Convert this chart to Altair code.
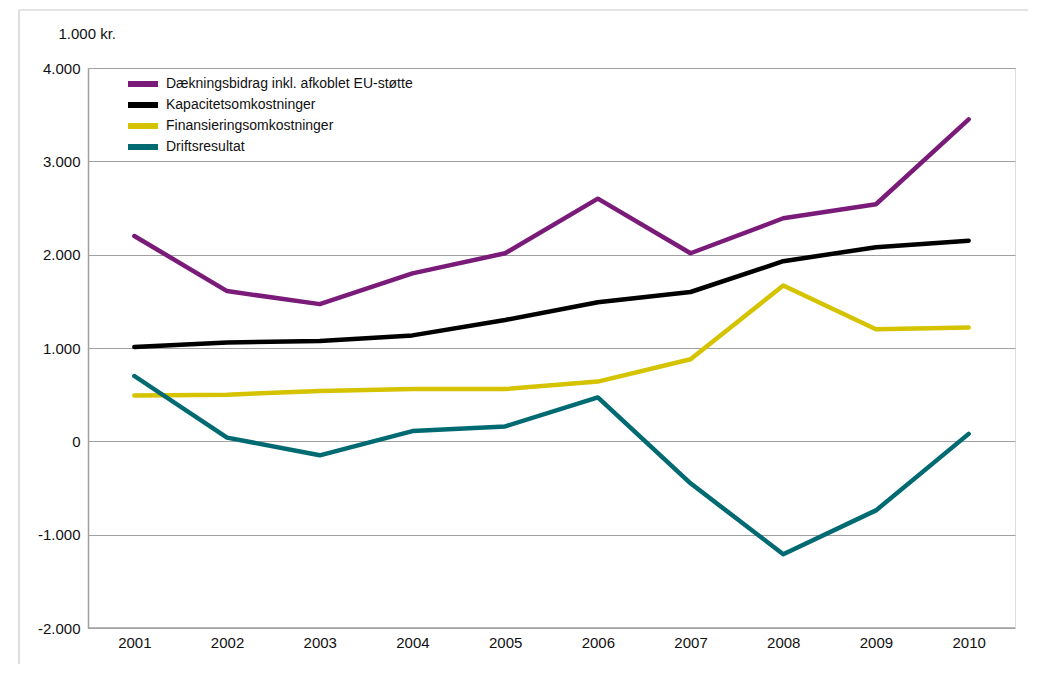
import altair as alt
import pandas as pd

years = ["2001", "2002", "2003", "2004", "2005", "2006", "2007", "2008", "2009", "2010"]
series_names = [
    "Dækningsbidrag inkl. afkoblet EU-støtte",
    "Kapacitetsomkostninger",
    "Finansieringsomkostninger",
    "Driftsresultat",
]
daekningsbidrag = [2200, 1610, 1470, 1800, 2015, 2600, 2015, 2390, 2540, 3450]
kapacitet = [1010, 1060, 1075, 1135, 1300, 1490, 1600, 1930, 2080, 2150]
finansiering = [490, 500, 540, 560, 560, 640, 880, 1670, 1200, 1220]
drift = [700, 40, -150, 110, 160, 470, -450, -1210, -740, 80]
colors = ["#7a1b7a", "#000000", "#d5c300", "#006a72"]

rows = []
for name, vals in zip(series_names, [daekningsbidrag, kapacitet, finansiering, drift]):
    for y, v in zip(years, vals):
        rows.append({"year": y, "value": v, "series": name})
df = pd.DataFrame(rows)

W, H = 927, 560
FONT = "Liberation Sans"

lines = alt.Chart(df).mark_line(strokeWidth=4.5, strokeCap="round", strokeJoin="round").encode(
    x=alt.X("year:O", scale=alt.Scale(type="point", padding=0.5),
            axis=alt.Axis(title=None, domain=False, ticks=False, labelAngle=0,
                          labelPadding=7, labelFontSize=15, labelColor="#111111",
                          labelFont=FONT, grid=False)),
    y=alt.Y("value:Q", scale=alt.Scale(domain=[-2000, 4000], nice=False, zero=False),
            axis=alt.Axis(values=[-2000, -1000, 0, 1000, 2000, 3000, 4000],
                          labelExpr="(datum.value < 0 ? '-' : '') + replace(format(abs(datum.value), ','), ',', '.')",
                          title="1.000 kr.", titleAngle=0, titleX=-30, titleY=-35,
                          titleAlign="left", titleBaseline="middle", titleFontSize=15,
                          titleFontWeight="normal", titleFont=FONT, titleColor="#111111",
                          domain=True, domainColor="#a0a0a0", domainWidth=1.5,
                          ticks=False, labelPadding=8, labelFontSize=15, labelFont=FONT,
                          labelColor="#111111",
                          grid=True, gridColor="#a0a0a0", gridWidth=1.2)),
    color=alt.Color("series:N", sort=series_names,
                    scale=alt.Scale(domain=series_names, range=colors),
                    legend=alt.Legend(title=None, orient="none", legendX=37, legendY=6,
                                      symbolType="stroke", symbolSize=900,
                                      symbolStrokeWidth=6, labelFontSize=14,
                                      labelFont=FONT, labelColor="#111111",
                                      labelLimit=500, clipHeight=20,
                                      rowPadding=1, labelOffset=5)),
    order=alt.Order("year:O"),
)

bottom = alt.Chart(pd.DataFrame({"v": [-2000]})).mark_rule(color="#a0a0a0", strokeWidth=1.5).encode(
    y="v:Q"
)

frame_left = alt.Chart(pd.DataFrame({"a": [0]})).mark_rule(color="#c8c8c8", strokeWidth=1.2).encode(
    x=alt.value(-69), y=alt.value(-58), y2=alt.value(H + 40)
)
frame_top = alt.Chart(pd.DataFrame({"a": [0]})).mark_rule(color="#c8c8c8", strokeWidth=1.2).encode(
    x=alt.value(-69), x2=alt.value(W + 13), y=alt.value(-58)
)

chart = alt.layer(frame_left, frame_top, lines, bottom).properties(
    width=W, height=H,
    autosize=alt.AutoSizeParams(type="none"),
    padding={"left": 80, "top": 60, "right": 13, "bottom": 36},
).configure_view(stroke=None).configure(background="white")

chart.save("out.html", embed_options={"renderer": "svg", "actions": False})
